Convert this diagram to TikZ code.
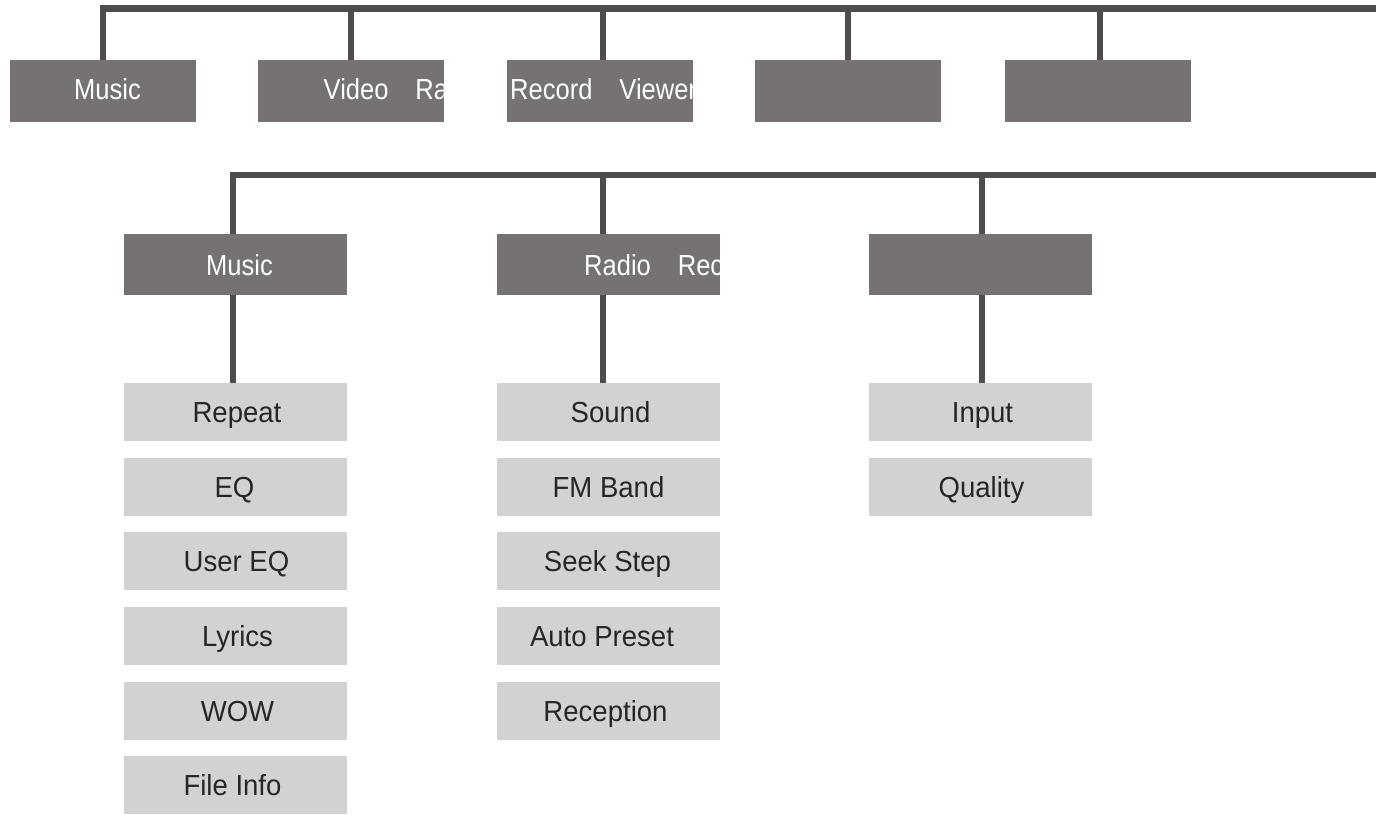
\documentclass[tikz,border=0pt]{standalone}
\usepackage{fontspec}
\setmainfont[FakeStretch=0.95]{Liberation Sans}
\newfontfamily\headfont[FakeStretch=0.88]{Liberation Sans}
\begin{document}
\begin{tikzpicture}[
		x=1pt,y=-1pt,
		node distance=74.6pt,
		bar/.style={line width=6.5pt, draw=barGray},
		drop/.style={line width=6pt, draw=barGray},
		top box/.style={rectangle, fill=headGray, minimum width=186pt, minimum height=62pt, inner sep=0pt},
		head box/.style={rectangle, fill=headGray, minimum width=223pt, minimum height=61pt, inner sep=0pt},
		item box/.style={rectangle, fill=itemGray, minimum width=223pt, minimum height=58pt, inner sep=0pt, text height=21pt, text depth=0pt, font=\fontsize{29}{29}\selectfont, text=black!85},
		cut text/.style n args={3}{path picture={
			\node[anchor=west, fill=none, minimum width=0pt, minimum height=0pt, inner sep=0pt, text=white, text height=21pt, text depth=0pt, font=\headfont\fontsize{29}{29}\selectfont] (cut) at ([xshift=#1,yshift=#2]path picture bounding box.west) {#3};
		}}
	]
		\definecolor{barGray}{HTML}{4D4D4D}
		\definecolor{headGray}{HTML}{767172}
		\definecolor{itemGray}{HTML}{D2D2D2}
		\useasboundingbox (0,0) rectangle (1376,814);

		% top row
		\node[top box,cut text={64pt}{2.5pt}{Music}] (top1) at (103,91) {};
		\node[top box,cut text={66pt}{2.5pt}{Video\hspace{27pt}Ra}] (top2) at (350.5,91) {};
		\node[top box,cut text={3pt}{2.5pt}{Record\hspace{27pt}Viewer}] (top3) at (600,91) {};
		\node[top box] (top4) at (848,91) {};
		\node[top box] (top5) at (1098,91) {};

		\coordinate (bar1) at (99.5,8.5);
		\coordinate (end1) at (1376,8.5);
		\coordinate (t1) at (102.5,8.5);
		\coordinate (t2) at (351,8.5);
		\coordinate (t3) at (603,8.5);
		\coordinate (t4) at (848,8.5);
		\coordinate (t5) at (1100,8.5);

		\draw[bar] (bar1) -- (end1);
		\foreach \i in {1,...,5} {
			\draw[drop] (t\i) -- (t\i |- top\i.north);
		}

		% second row
		\node[head box,cut text={82pt}{0pt}{Music}] (head1) at (235.5,264.5) {};
		\node[head box,cut text={87pt}{0pt}{Radio\hspace{27pt}Rec}] (head2) at (608.5,264.5) {};
		\node[head box] (head3) at (980.5,264.5) {};

		\node[item box,below of=head1,yshift=-73pt] (m1) {\hspace*{3pt}Repeat};
		\node[item box,below of=m1] (m2) {EQ\hspace*{2pt}};
		\node[item box,below of=m2] (m3) {\hspace*{2pt}User EQ};
		\node[item box,below of=m3] (m4) {\hspace*{4pt}Lyrics};
		\node[item box,below of=m4] (m5) {\hspace*{4pt}WOW};
		\node[item box,below of=m5] (m6) {File Info\hspace*{6pt}};

		\node[item box,below of=head2,yshift=-73pt] (r1) {\hspace*{4pt}Sound};
		\node[item box,below of=r1] (r2) {FM Band};
		\node[item box,below of=r2] (r3) {Seek Step\hspace*{2pt}};
		\node[item box,below of=r3] (r4) {Auto Preset\hspace*{13pt}};
		\node[item box,below of=r4] (r5) {Reception\hspace*{6pt}};

		\node[item box,below of=head3,yshift=-73pt] (q1) {\hspace*{4pt}Input};
		\node[item box,below of=q1] (q2) {\hspace*{2pt}Quality};

		\coordinate (bar2) at (229.5,175);
		\coordinate (end2) at (1376,175);
		\coordinate (s1) at (232.5,175);
		\coordinate (s2) at (603,175);
		\coordinate (s3) at (981.5,175);

		\draw[bar] (bar2) -- (end2);
		\foreach \h/\f in {1/m1,2/r1,3/q1} {
			\draw[drop] (s\h) -- (s\h |- head\h.north);
			\draw[drop] (s\h |- head\h.south) -- (s\h |- \f.north);
		}
	\end{tikzpicture}
\end{document}
